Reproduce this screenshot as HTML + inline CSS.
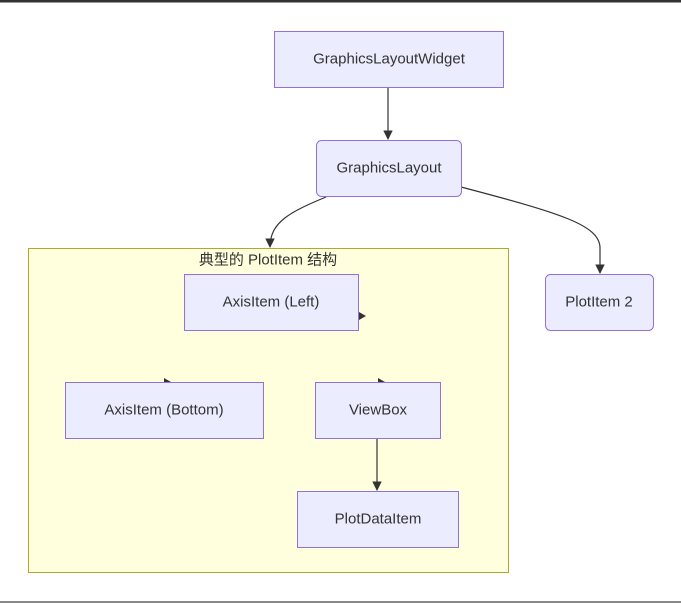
<!DOCTYPE html>
<html><head><meta charset="utf-8"><style>
html,body{margin:0;padding:0;background:#fff;width:681px;height:603px;overflow:hidden}
svg{display:block}
text{font-family:"Liberation Sans","Noto Sans CJK SC",sans-serif;font-size:15px;fill:#333;text-anchor:middle;dominant-baseline:central}
.n{fill:#ececff;stroke:#9370db;stroke-width:1}
.e{fill:none;stroke:#333;stroke-width:1.2}
</style></head><body>
<svg width="681" height="603" viewBox="0 0 681 603">
<defs><marker id="a" viewBox="0 0 10 10" refX="9" refY="5" markerWidth="8" markerHeight="8" orient="auto"><path d="M0,0L10,5L0,10z" fill="#333"/></marker></defs>
<rect x="0" y="0" width="681" height="2.5" fill="#333"/>
<rect x="0" y="601" width="681" height="2" fill="#888"/>
<rect x="28.5" y="248.5" width="480" height="324" fill="#ffffde" stroke="#aaaa33"/>
<text x="268" y="260">典型的 PlotItem 结构</text>
<path class="e" d="M388,87 L388,139" marker-end="url(#a)"/>
<path class="e" d="M326,197 C290,212 270,222 270,247" marker-end="url(#a)"/>
<path class="e" d="M461,187 C560,213 600,225 600,248 L600,273" marker-end="url(#a)"/>
<path class="e" d="M377,438 L377,490" marker-end="url(#a)"/>
<path d="M359,312 L366,316 L359,320z" fill="#333"/>
<path d="M164,378 L171,382 L164,382z" fill="#333"/>
<path d="M378,378 L385,382 L378,382z" fill="#333"/>
<rect class="n" x="274.5" y="31.5" width="229" height="56"/>
<text x="389" y="59">GraphicsLayoutWidget</text>
<rect class="n" x="316.5" y="140.5" width="145" height="56" rx="5"/>
<text x="389" y="168">GraphicsLayout</text>
<rect class="n" x="184.5" y="274.5" width="174" height="56"/>
<text x="271" y="302">AxisItem (Left)</text>
<rect class="n" x="65.5" y="382.5" width="198" height="56"/>
<text x="164" y="410">AxisItem (Bottom)</text>
<rect class="n" x="315.5" y="382.5" width="125" height="56"/>
<text x="378" y="410">ViewBox</text>
<rect class="n" x="297.5" y="491.5" width="161" height="56"/>
<text x="378" y="519">PlotDataItem</text>
<rect class="n" x="545.5" y="274.5" width="108" height="56" rx="5"/>
<text x="599" y="302">PlotItem 2</text>
</svg>
</body></html>
